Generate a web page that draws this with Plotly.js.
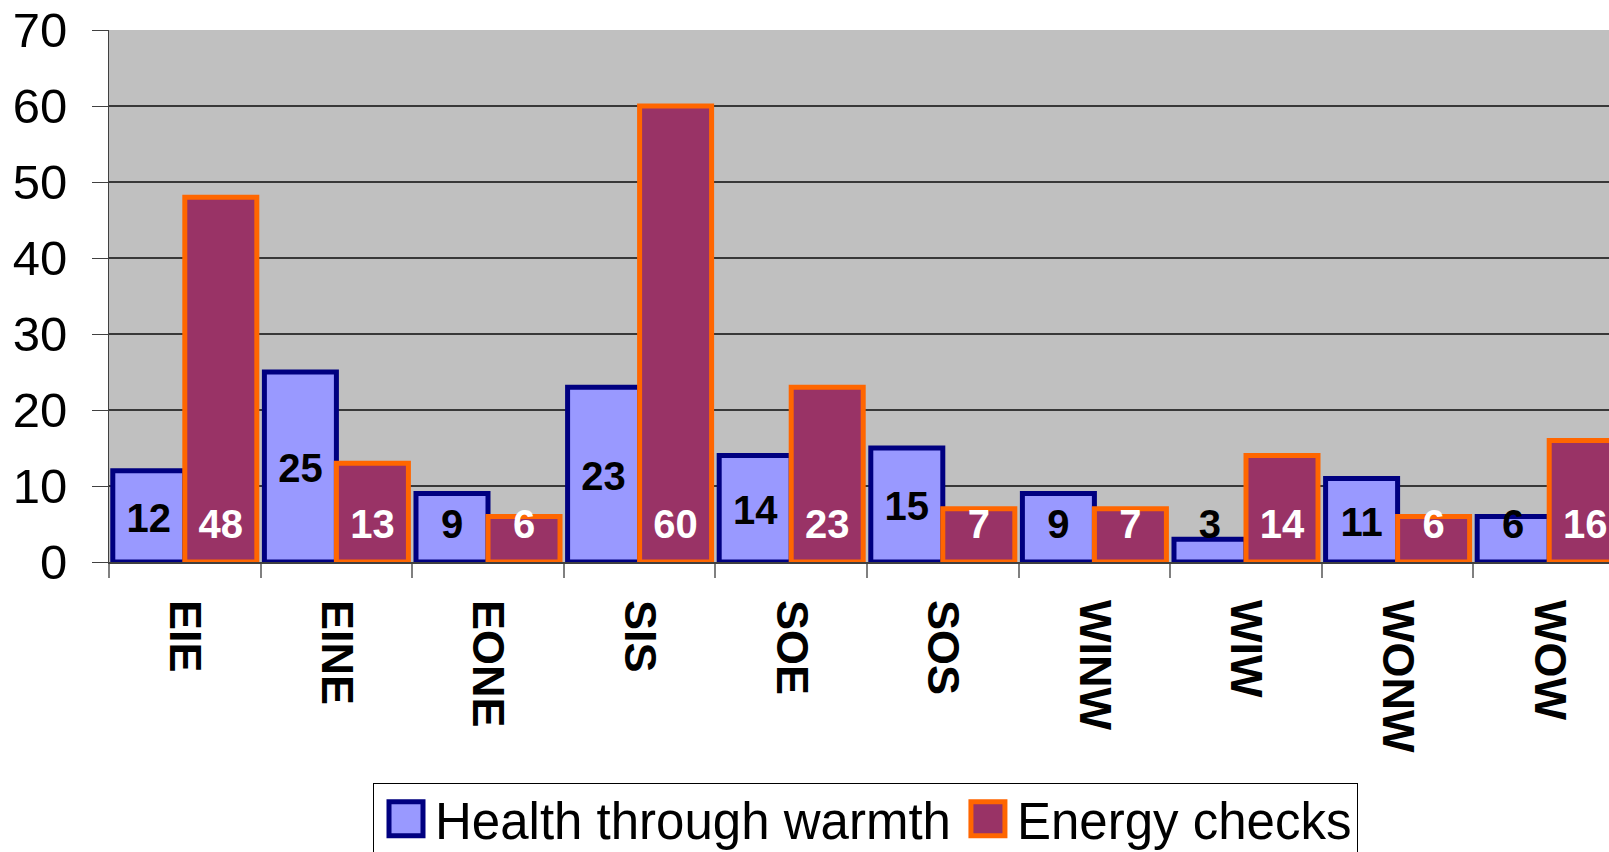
<!DOCTYPE html>
<html>
<head>
<meta charset="utf-8">
<script src="https://cdn.plot.ly/plotly-3.0.1.min.js"></script>
<style>
  html, body { margin: 0; padding: 0; background: #ffffff; }
  #chart { width: 1609px; height: 852px; }
</style>
</head>
<body>
<div id="chart"></div>
<script>
// ---- data ----
const categories = ["EIE", "EINE", "EONE", "SIS", "SOE", "SOS", "WINW", "WIW", "WONW", "WOW"];
const healthThroughWarmth = [12, 25, 9, 23, 14, 15, 9, 3, 11, 6];
const energyChecks = [48, 13, 6, 60, 23, 7, 7, 14, 6, 16];
const seriesNames = ["Health through warmth", "Energy checks"];
const yTickVals = [0, 10, 20, 30, 40, 50, 60, 70];

// ---- styles ----
const FONT = "Liberation Sans, Arial, Helvetica, sans-serif";
const BAR_W = 0.475;
const LABEL_BASE = 5.15;   // lowest label level (value units), Excel-style
const LABEL_SHIFT = 0.7;   // compensates text vertical centring

const idx = categories.map((c, i) => i);

const traces = [
  {
    type: "bar", name: seriesNames[0],
    x: idx, y: healthThroughWarmth,
    width: BAR_W, offset: -BAR_W,
    marker: { color: "#9999ff", line: { color: "#000080", width: 5 } },
    hoverinfo: "y"
  },
  {
    type: "bar", name: seriesNames[1],
    x: idx, y: energyChecks,
    width: BAR_W, offset: 0,
    marker: { color: "#993366", line: { color: "#ff6600", width: 5 } },
    hoverinfo: "y"
  },
  {
    type: "scatter", mode: "text", showlegend: false, hoverinfo: "skip", cliponaxis: false,
    x: idx.map(i => i - BAR_W / 2),
    y: healthThroughWarmth.map(v => Math.max(v / 2, LABEL_BASE) - LABEL_SHIFT),
    text: healthThroughWarmth.map(String),
    textposition: "middle center",
    textfont: { family: FONT, size: 40, color: "#000000", weight: "bold" }
  },
  {
    type: "scatter", mode: "text", showlegend: false, hoverinfo: "skip", cliponaxis: false,
    x: idx.map(i => i + BAR_W / 2),
    y: energyChecks.map(() => LABEL_BASE - LABEL_SHIFT),
    text: energyChecks.map(String),
    textposition: "middle center",
    textfont: { family: FONT, size: 40, color: "#ffffff", weight: "bold" }
  }
];

const plotLeft = 109, plotRight = 1609, catPx = 151.6;

const layout = {
  width: 1609, height: 852,
  margin: { l: plotLeft, r: 0, t: 30, b: 290, autoexpand: false },
  paper_bgcolor: "#ffffff",
  plot_bgcolor: "#c0c0c0",
  barmode: "overlay",
  showlegend: true,
  xaxis: {
    type: "linear",
    range: [-0.5, -0.5 + (plotRight - plotLeft) / catPx],
    tickmode: "array",
    tickvals: idx,
    ticktext: categories,
    tickangle: 90,
    ticks: "outside", ticklen: 14, tickcolor: "rgba(0,0,0,0)",
    ticklabelstandoff: 13,
    tickfont: { family: FONT, size: 45, color: "#000000", weight: "bold" },
    minor: { tickmode: "linear", tick0: -0.5, dtick: 1, ticks: "outside", ticklen: 14, tickcolor: "#808080", tickwidth: 2, showgrid: false },
    showgrid: false, zeroline: false,
    showline: true, linecolor: "#404040", linewidth: 2,
    fixedrange: true
  },
  yaxis: {
    range: [0, 70],
    tickmode: "array",
    tickvals: yTickVals,
    ticks: "outside", ticklen: 16, tickcolor: "#404040", tickwidth: 1,
    ticklabelstandoff: 15,
    tickfont: { family: FONT, size: 49, color: "#000000" },
    showgrid: true, gridcolor: "#383838", gridwidth: 1.3,
    zeroline: false,
    showline: true, linecolor: "#404040", linewidth: 1,
    fixedrange: true
  },
  legend: {
    orientation: "h",
    x: (373 - plotLeft) / (plotRight - plotLeft), xanchor: "left",
    y: -(783 - 562) / 532, yanchor: "top",
    bgcolor: "#ffffff", bordercolor: "#000000", borderwidth: 1,
    font: { family: FONT, size: 51, color: "#000000" },
    itemwidth: 51,
    traceorder: "normal"
  }
};

Plotly.newPlot("chart", traces, layout, { displayModeBar: false, staticPlot: true }).then(gd => {
  // enlarge legend swatches to match the reference's big square keys, and lift entries slightly
  gd.querySelectorAll(".legend .legendpoints path").forEach(p => {
    p.setAttribute("d", "M17,17H-17V-17H17Z");
    p.setAttribute("transform", "translate(32,-5)");
  });
  gd.querySelectorAll(".legend text.legendtext").forEach(t => {
    t.setAttribute("transform", "translate(0,-5)");
  });
});
</script>
</body>
</html>
